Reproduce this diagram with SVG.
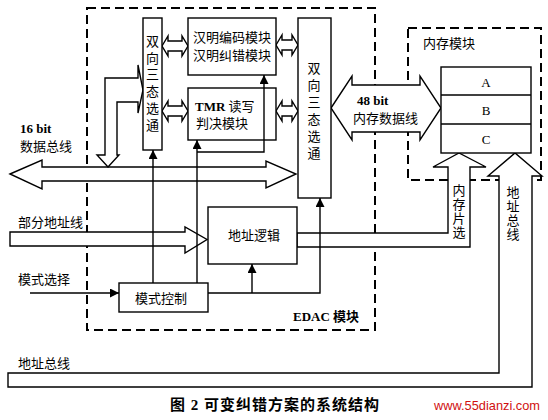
<svg xmlns="http://www.w3.org/2000/svg" width="548" height="420" viewBox="0 0 548 420">
<defs>
<style>
.bg{fill:#fff}
.box{fill:#fff;stroke:#000;stroke-width:1.4}
.dash{fill:none;stroke:#000;stroke-width:2;stroke-dasharray:9 5}
.harrow{fill:#fff;stroke:#000;stroke-width:1.4;stroke-linejoin:miter}
.ln{fill:none;stroke:#000;stroke-width:1.4}
.t{font-family:"Liberation Serif","Noto Sans CJK SC",serif;font-size:13px;fill:#000;dominant-baseline:central}
.tb{font-weight:bold}
.mid{text-anchor:middle}
.cap{font-family:"Liberation Serif","Noto Sans CJK SC",serif;font-size:15px;font-weight:bold;letter-spacing:1px;fill:#000;dominant-baseline:central}
.wm{font-family:"Liberation Sans",Arial,sans-serif;font-size:13.5px;fill:#d01010;dominant-baseline:central}
</style>
<marker id="ah" viewBox="0 0 10 10" refX="10" refY="5" markerWidth="9" markerHeight="9" markerUnits="userSpaceOnUse" orient="auto">
<path d="M0,0 L10,5 L0,10 z" fill="#000"/>
</marker>
</defs>
<rect class="bg" x="0" y="0" width="548" height="420"/>

<g id="edac-frame">
<rect class="dash" x="87" y="8" width="288" height="322"/>
<text class="t tb" x="293" y="316">EDAC 模块</text>
</g>
<g id="memory-frame">
<rect class="dash" x="408" y="28" width="133" height="152"/>
<text class="t" x="423" y="43">内存模块</text>
</g>

<g id="buses">
<polygon id="data-bus" class="harrow" points="10,174 42,160 42,167 266,167 266,161 296,174 266,188 266,181 42,181 42,189"/>
<polygon id="partial-addr" class="harrow" points="10,232 185,232 185,227 207,239.5 185,253 185,246 10,246"/>
<polygon id="mem-data" class="harrow" points="331,108 352,76 352,85 420,85 420,76 441,108 420,140 420,132 352,132 352,140"/>
<polygon id="chip-select" class="harrow" points="297,233 448,233 448,167 433,167 459,153 486,167 470,167 470,247 297,247"/>
<polygon id="addr-bus" class="harrow" points="8,373 499,373 499,176 488,176 515,153 542,176 532,176 532,387 8,387"/>
<polygon id="bus-to-tri" class="harrow" points="108,167 119,155 117,155 117,102 138,102 138,113 143,90 138,65 138,78 105,78 105,155 97,155"/>
<polygon class="harrow" points="162,46 168,36 168,41 182,41 182,36 188,46 182,56 182,51 168,51 168,56"/>
<polygon class="harrow" points="162,111 168,101 168,106 182,106 182,101 188,111 182,121 182,116 168,116 168,121"/>
<polygon class="harrow" points="276,45 282,35 282,40 292,40 292,35 298,45 292,55 292,50 282,50 282,55"/>
<polygon class="harrow" points="276,111 282,101 282,106 292,106 292,101 298,111 292,121 292,116 282,116 282,121"/>
</g>

<g id="tri-left">
<rect class="box" x="143" y="18" width="19" height="132"/>
<text class="t mid" x="152.5" y="41">双</text>
<text class="t mid" x="152.5" y="58">向</text>
<text class="t mid" x="152.5" y="74">三</text>
<text class="t mid" x="152.5" y="91">态</text>
<text class="t mid" x="152.5" y="108">选</text>
<text class="t mid" x="152.5" y="125">通</text>
</g>
<g id="hamming">
<rect class="box" x="188" y="18" width="88" height="57"/>
<text class="t mid" x="232" y="37">汉明编码模块</text>
<text class="t mid" x="232" y="55">汉明纠错模块</text>
</g>
<g id="tmr">
<rect class="box" x="188" y="88" width="88" height="52"/>
<text class="t" x="195" y="106"><tspan class="tb">TMR</tspan> 读写</text>
<text class="t" x="196" y="123">判决模块</text>
</g>
<g id="tri-right">
<rect class="box" x="298" y="18" width="33" height="180"/>
<text class="t mid" x="314" y="68">双</text>
<text class="t mid" x="314" y="85">向</text>
<text class="t mid" x="314" y="102">三</text>
<text class="t mid" x="314" y="119">态</text>
<text class="t mid" x="314" y="136">选</text>
<text class="t mid" x="314" y="153">通</text>
</g>
<g id="addr-logic">
<rect class="box" x="208" y="207" width="89" height="57"/>
<text class="t mid" x="254" y="235">地址逻辑</text>
</g>
<g id="mode-ctrl">
<rect class="box" x="119" y="283" width="89" height="29"/>
<text class="t mid" x="161" y="298">模式控制</text>
</g>
<g id="mem-abc">
<rect class="box" x="441" y="67" width="90" height="86"/>
<line class="ln" x1="441" y1="95" x2="531" y2="95"/>
<line class="ln" x1="441" y1="124" x2="531" y2="124"/>
<text class="t mid" x="486" y="82">A</text>
<text class="t mid" x="486" y="110">B</text>
<text class="t mid" x="486" y="139">C</text>
</g>

<g id="connectors">
<polyline class="ln" points="153,283 153,150" marker-end="url(#ah)"/>
<polyline class="ln" points="197,283 197,140" marker-end="url(#ah)"/>
<polyline class="ln" points="197,152 264,152 264,75" marker-end="url(#ah)"/>
<polyline class="ln" points="30,293 119,293" marker-end="url(#ah)"/>
<polyline class="ln" points="208,293 320,293 320,198" marker-end="url(#ah)"/>
<polyline class="ln" points="252,293 252,264" marker-end="url(#ah)"/>
</g>

<g id="labels">
<text class="t tb" x="20" y="128">16 bit</text>
<text class="t" x="20" y="146">数据总线</text>
<text class="t" x="18" y="222">部分地址线</text>
<text class="t" x="18" y="279">模式选择</text>
<text class="t" x="18" y="363">地址总线</text>
<text class="t tb" x="357" y="100">48 bit</text>
<text class="t" x="353" y="118">内存数据线</text>
<text class="t mid" x="459" y="190">内</text>
<text class="t mid" x="459" y="204">存</text>
<text class="t mid" x="459" y="218">片</text>
<text class="t mid" x="459" y="232">选</text>
<text class="t mid" x="513" y="192">地</text>
<text class="t mid" x="513" y="206">址</text>
<text class="t mid" x="513" y="220">总</text>
<text class="t mid" x="513" y="234">线</text>
<text class="cap" x="170" y="405">图 2 可变纠错方案的系统结构</text>
<text class="wm" x="434" y="405" textLength="106" lengthAdjust="spacingAndGlyphs">www.55dianzi.com</text>
</g>
</svg>
